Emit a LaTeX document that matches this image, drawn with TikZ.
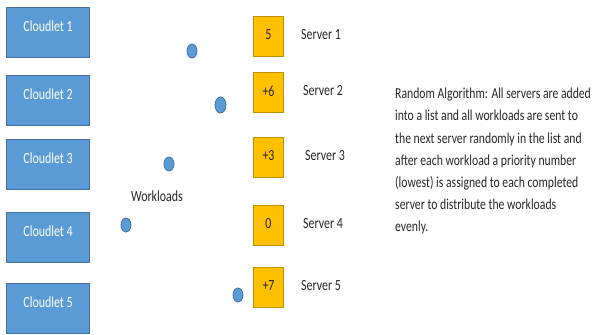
\documentclass[tikz,border=0pt]{standalone}
\usepackage{fontspec}
\setmainfont[FakeStretch=0.77]{Carlito}
\usetikzlibrary{shapes.geometric}
\definecolor{cloudfill}{HTML}{5B9BD5}
\definecolor{cloudedge}{HTML}{41719C}
\definecolor{srvfill}{HTML}{FFC000}
\definecolor{srvedge}{HTML}{BF9000}
\definecolor{ink}{HTML}{262626}
\begin{document}
\begin{tikzpicture}[x=1pt,y=-1pt,
  every node/.style={font=\fontsize{15.5}{19}\selectfont, text=ink},
  cloudbox/.style={draw=cloudedge, line width=1.2pt, fill=cloudfill,
    minimum width=83pt, minimum height=50pt, inner sep=0pt, anchor=north west},
  cloudtext/.style={text=white, inner sep=0pt},
  srvbox/.style={draw=srvedge, line width=1pt, fill=srvfill,
    minimum width=30pt, minimum height=40pt, inner sep=0pt, anchor=north west},
  srvlabel/.style={inner sep=0pt, anchor=west},
  workdot/.style={ellipse, draw=cloudedge, line width=0.8pt, fill=cloudfill,
    minimum width=10pt, minimum height=14pt, inner sep=0pt}
]
\useasboundingbox (0,0) rectangle (595,335);

% cloudlets
\foreach \i/\y in {1/7, 2/75, 3/139, 4/212, 5/283}{
  \node[cloudbox] (c\i) at (6,\y) {};
  \node[cloudtext] (c\i t) at ([yshift=-19pt]c\i.north) {Cloudlet \i};
}

% servers with their priority numbers
\foreach \i/\y/\n/\lx in {1/16/5/301, 2/72/+6/303, 3/137/+3/305, 4/205/0/303, 5/267/+7/301}{
  \node[srvbox] (s\i) at (253,\y) {};
  \node[inner sep=0pt] (n\i) at ([yshift=1.5pt]s\i.center) {\n};
  \node[srvlabel] (l\i) at (\lx,{\y+19}) {Server \i};
}

% workloads
\node[workdot] (w1) at (192,51) {};
\node[workdot, minimum width=11pt, minimum height=16pt] (w2) at (220.5,105) {};
\node[workdot] (w3) at (169,164) {};
\node[workdot] (w4) at (126,225) {};
\node[workdot] (w5) at (238,295) {};
\node[inner sep=0pt] (wl) at (157,196) {Workloads};

% description of the algorithm
\node[anchor=north west, inner sep=0pt, align=left,
      font=\fontsize{15.2}{22.2}\selectfont] (desc) at (395,88)
  {Random Algorithm: All servers are added\\
   into a list and all workloads are sent to\\
   the next server randomly in the list and\\
   after each workload a priority number\\
   (lowest) is assigned to each completed\\
   server to distribute the workloads\\
   evenly.};
\end{tikzpicture}
\end{document}
